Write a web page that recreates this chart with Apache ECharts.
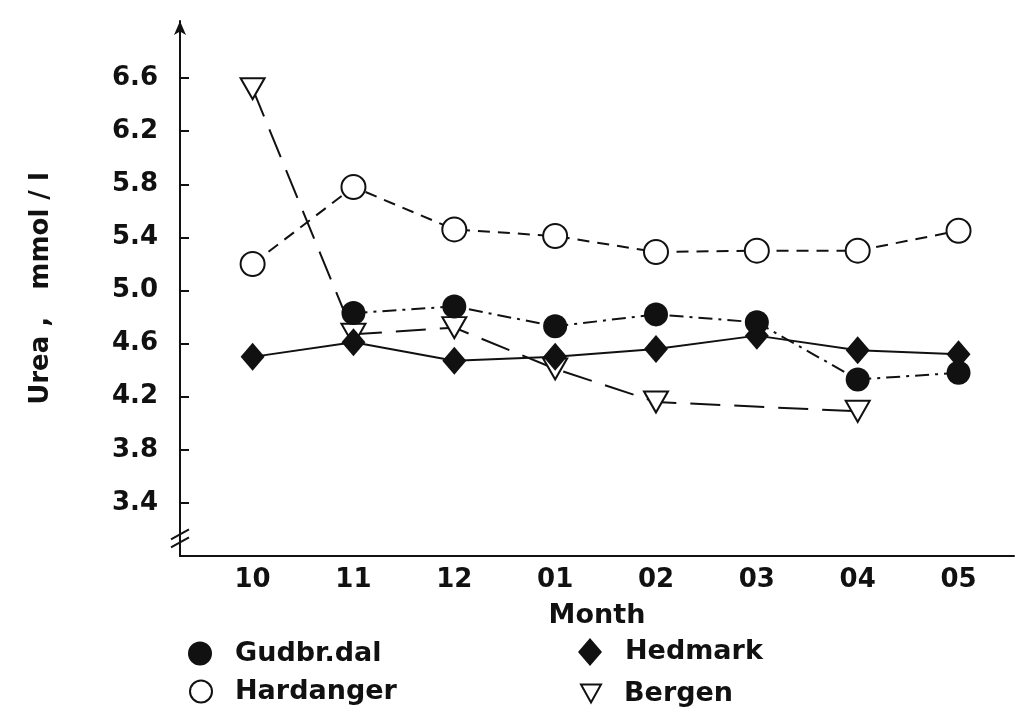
<!DOCTYPE html>
<html><head><meta charset="utf-8">
<script src="https://cdn.jsdelivr.net/npm/echarts@6/dist/echarts.min.js"></script>
<style>html,body{margin:0;padding:0;background:#fff}#c{width:1016px;height:710px}</style>
</head><body><div id="c"></div>
<script>
const months = ['10','11','12','01','02','03','04','05'];
const yTicks = [3.4,3.8,4.2,4.6,5.0,5.4,5.8,6.2,6.6];
const gudbrdal  = [null,4.83,4.88,4.73,4.82,4.76,4.33,4.38];
const hardanger = [5.20,5.78,5.46,5.41,5.29,5.30,5.30,5.45];
const hedmark   = [4.50,4.61,4.47,4.50,4.56,4.66,4.55,4.52];
const bergen    = [6.52,4.67,4.72,4.41,4.16,null,4.09,null];

function pts(arr){ return arr.map((v,i)=>[i,v]).filter(p=>p[1]!==null); }
const FONT = 'DejaVu Sans';
const TXT = {color:'#111',fontFamily:FONT,fontWeight:'bold'};
function leg(name, icon, left, top, w, h){
  return {left:left,top:top,padding:0,orient:'vertical',itemWidth:w,itemHeight:h,
    textStyle:Object.assign({fontSize:27,padding:[0,0,0,18]},TXT),
    data:[{name:name,icon:icon}]};
}
const chart = echarts.init(document.getElementById('c'));
chart.setOption({
  animation:false,
  backgroundColor:'#fff',
  grid:{left:180,top:21,right:2,height:535},
  xAxis:{type:'value',min:-0.72,max:7.55,
    axisLine:{show:true,onZero:false,lineStyle:{color:'#111',width:2}},
    axisTick:{show:false},splitLine:{show:false},
    axisLabel:Object.assign({customValues:[0,1,2,3,4,5,6,7],formatter:v=>months[Math.round(v)],fontSize:26,margin:11},TXT),
    name:'Month',nameLocation:'middle',nameGap:46,
    nameTextStyle:Object.assign({fontSize:27},TXT)},
  yAxis:{type:'value',min:3.0,max:7.03,
    axisLine:{show:true,onZero:false,symbol:['none','arrow'],symbolSize:[9,14],lineStyle:{color:'#111',width:2}},
    axisTick:{show:true,inside:true,length:9,customValues:yTicks,lineStyle:{color:'#111',width:2}},
    splitLine:{show:false},
    axisLabel:Object.assign({customValues:yTicks,formatter:v=>v.toFixed(1),fontSize:26,margin:22},TXT),
    name:'Urea ,   mmol / l',nameLocation:'middle',nameGap:126,nameRotate:90,
    nameTextStyle:Object.assign({fontSize:26},TXT)},
  legend:[
    leg('Gudbr.dal','circle',188,640,24,24),
    leg('Hardanger','circle',189,678,22,22),
    leg('Hedmark','diamond',578,638,24,28),
    leg('Bergen','path://M0,0 L20,0 L10,18 Z',580,680,20,18)
  ],
  series:[
    {name:'Bergen',type:'line',data:pts(bergen),z:2,
     symbol:'triangle',symbolRotate:180,symbolSize:[24,21],
     itemStyle:{color:'#fff',borderColor:'#111',borderWidth:2},
     lineStyle:{color:'#111',width:2,type:[30,14]}},
    {name:'Hardanger',type:'line',data:pts(hardanger),z:3,
     symbol:'circle',symbolSize:24,
     itemStyle:{color:'#fff',borderColor:'#111',borderWidth:2},
     lineStyle:{color:'#111',width:2,type:[12,8]}},
    {name:'Hedmark',type:'line',data:pts(hedmark),z:4,
     symbol:'diamond',symbolSize:[24,28],
     itemStyle:{color:'#111',borderColor:'#111',borderWidth:0},
     lineStyle:{color:'#111',width:2,type:'solid'}},
    {name:'Gudbr.dal',type:'line',data:pts(gudbrdal),z:5,
     symbol:'circle',symbolSize:24,
     itemStyle:{color:'#111',borderColor:'#111',borderWidth:0},
     lineStyle:{color:'#111',width:2,type:[14,6,3,6]}}
  ]
});
// axis break marks on the y axis
const p = chart.convertToPixel({gridIndex:0},[-0.72,3.14]);
chart.setOption({graphic:[
  {type:'line',shape:{x1:p[0]-9,y1:p[1]+2,x2:p[0]+9,y2:p[1]-8},style:{stroke:'#111',lineWidth:2}},
  {type:'line',shape:{x1:p[0]-9,y1:p[1]+10,x2:p[0]+9,y2:p[1]},style:{stroke:'#111',lineWidth:2}}
]});
</script></body></html>
